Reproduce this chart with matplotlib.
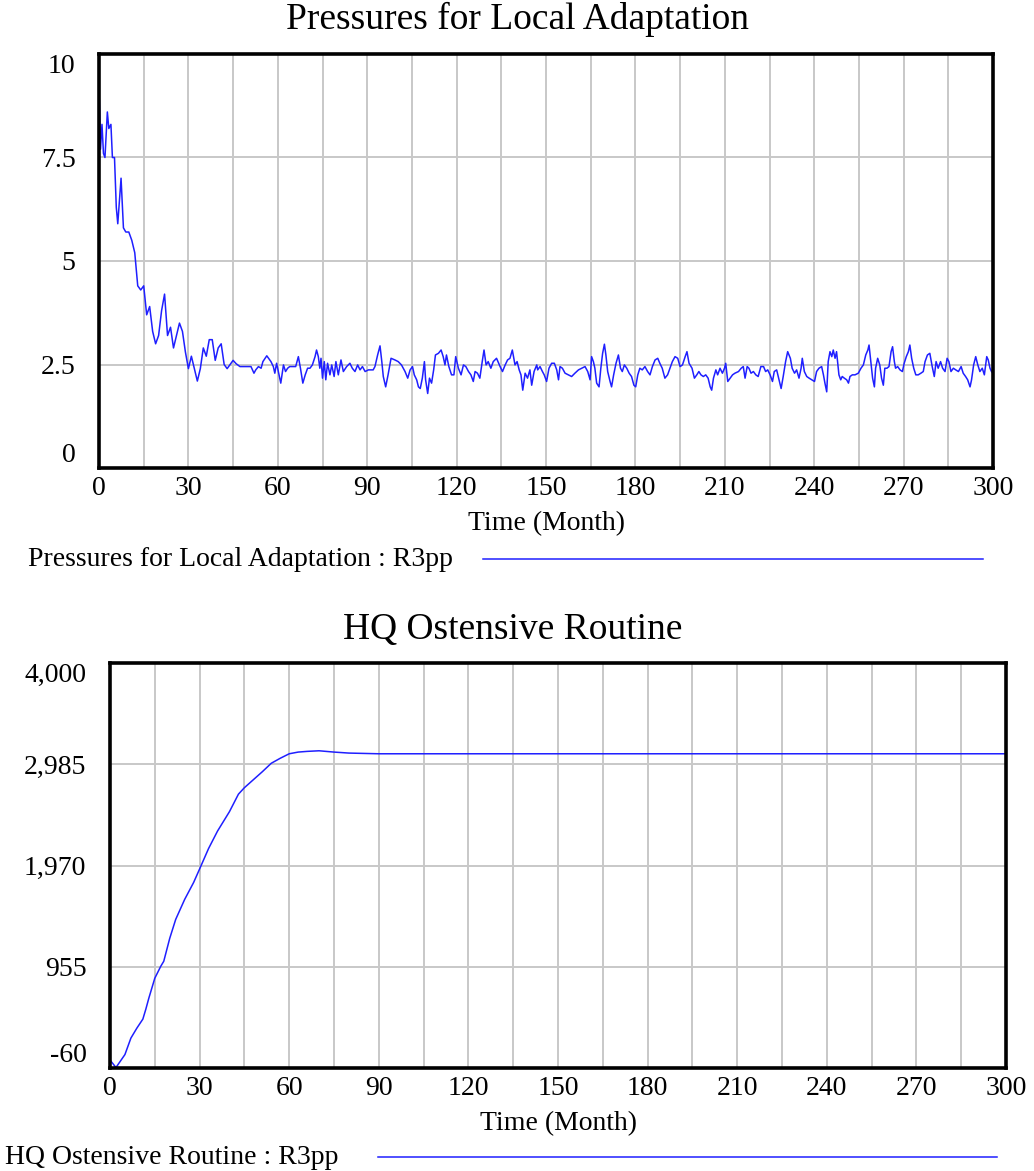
import matplotlib
matplotlib.use("Agg")
import matplotlib.pyplot as plt
from matplotlib.lines import Line2D

plt.rcParams["font.family"] = ["Liberation Serif", "DejaVu Serif"]

# ============
# data
# ============
# Pressures for Local Adaptation (R3pp)
pla_time = [
    0, 0.5, 1, 1.5, 2, 2.8, 3.3, 4, 4.5, 5.2, 5.8, 6.3, 7, 7.4, 7.8, 8.2, 9, 10, 11, 12,
    12.5, 13, 14, 15, 16, 17, 18, 19, 20, 21, 22, 23, 24, 25, 26, 27, 28, 29, 30, 31,
    32, 33, 34, 35, 36, 37, 38, 39, 40, 41, 42, 43, 44, 45, 46, 47.3, 49, 51, 52, 52.6,
    53.5, 54.4, 55, 56.3, 56.9, 57.7, 58.5, 59, 59.6, 60.4, 61, 61.9, 62.6, 63.3, 64, 66, 66.9, 67.6, 68.4, 69.2,
    70, 70.8, 71.6, 72.5, 73, 73.6, 74.1, 74.5, 75, 75.6, 76.1, 76.7, 77.5, 78.1, 78.9, 79.5, 80.3, 81.2, 82, 83.1,
    84.2, 85, 85.9, 86.8, 87.6, 88.4, 89.3, 90.4, 92, 92.6, 93.5, 94.3, 94.9, 95.4, 96.2, 97, 98, 99.3, 100.4, 101.5,
    102.7, 103.6, 104.4, 105.2, 105.8, 106.6, 107.2, 107.8, 108.5, 109.2, 109.6, 110.3, 110.9, 111.6, 112.3, 112.9, 113.9, 114.8, 115.5, 116.1,
    116.6, 117.4, 118.3, 119.1, 119.7, 120.6, 121.5, 122.3, 123.1, 124, 124.8, 125.6, 126.2, 127, 127.8, 128.6, 129.2, 129.9, 130.6, 131.5,
    132.3, 133.4, 134.6, 135.4, 136.3, 137.1, 137.9, 138.7, 139.6, 140.3, 141, 141.6, 142.2, 143, 143.8, 144.6, 145.2, 146, 146.9, 147.2,
    148, 148.8, 149.4, 150.2, 151, 151.9, 152.8, 153.6, 154.2, 154.7, 155.5, 156.4, 157.5, 158.6, 159.7, 160.9, 162, 163.1, 164, 164.8,
    165.3, 165.9, 166.4, 167, 167.8, 168.4, 169, 169.6, 170.1, 170.7, 171.5, 172, 172.7, 173.5, 174.3, 175, 175.6, 176.3, 177.1, 177.9,
    178.7, 179.5, 180.1, 180.8, 181.5, 182.3, 183.2, 184.1, 184.9, 185.7, 186.6, 187.5, 188.2, 189, 189.9, 190.8, 191.6, 192.4, 193.3, 194.2,
    195, 195.8, 196.7, 197.3, 198, 199, 199.8, 200.6, 201.3, 202, 202.8, 203.6, 204.4, 205.1, 205.6, 206.2, 207, 207.6, 208.4, 209.2,
    209.9, 210.3, 211, 211.8, 212.6, 213.4, 214.6, 215.5, 216.2, 216.8, 217.5, 218.1, 218.8, 219.6, 220.4, 221.2, 222.1, 223, 223.7, 224.4,
    225.2, 226, 226.6, 227.4, 228.2, 228.9, 229.6, 230.4, 231.1, 232, 232.6, 233.4, 234.1, 234.9, 235.6, 236, 236.7, 237.5, 238.3, 239.2,
    240.1, 240.8, 241.6, 242.5, 243.1, 243.6, 244.2, 244.7, 245.3, 245.9, 246.4, 247, 247.5, 248.3, 248.9, 249.4, 250.1, 250.9, 251.5, 252,
    252.8, 253.7, 254.8, 255.7, 256.5, 257.3, 258, 258.4, 259, 259.6, 260.2, 260.6, 261.3, 262, 262.6, 263.2, 263.7, 264.4, 265.1, 265.8,
    266.3, 266.9, 267.3, 268, 268.8, 269.6, 270.2, 270.9, 271.6, 272.1, 272.7, 273.4, 274.1, 274.9, 275.8, 276.6, 277.2, 278, 278.8, 279.6,
    280.3, 280.9, 281.6, 282.4, 283.1, 283.9, 284.6, 285.2, 285.9, 286.7, 287.5, 288.4, 289.3, 290, 290.8, 291.5, 292.3, 292.8, 293.5, 294.2,
    294.9, 295.6, 296.4, 297.1, 297.9, 298.4, 299, 299.5, 300,
]
pla_value = [
    9.2, 7.7, 8.3, 7.6, 7.5, 8.6, 8.2, 8.3, 7.5, 7.5, 6.3, 5.9, 6.6, 7.0, 6.4, 5.8, 5.7, 5.7, 5.5, 5.2,
    4.8, 4.4, 4.3, 4.4, 3.7, 3.9, 3.3, 3.0, 3.2, 3.8, 4.2, 3.2, 3.4, 2.9, 3.2, 3.5, 3.3, 2.8, 2.4, 2.7,
    2.4, 2.1, 2.4, 2.9, 2.7, 3.1, 3.1, 2.6, 2.9, 3.0, 2.5, 2.4, 2.5, 2.6, 2.52, 2.45, 2.45, 2.45, 2.29, 2.37,
    2.45, 2.41, 2.57, 2.71, 2.65, 2.57, 2.45, 2.29, 2.53, 2.25, 2.05, 2.49, 2.33, 2.41, 2.45, 2.45, 2.69, 2.41, 2.05, 2.25,
    2.41, 2.41, 2.49, 2.69, 2.85, 2.69, 2.41, 2.65, 2.17, 2.57, 2.13, 2.53, 2.25, 2.49, 2.21, 2.57, 2.25, 2.61, 2.33, 2.45,
    2.53, 2.41, 2.33, 2.49, 2.37, 2.45, 2.33, 2.37, 2.37, 2.45, 2.73, 2.95, 2.57, 2.21, 1.96, 2.25, 2.65, 2.61, 2.57, 2.49,
    2.33, 2.17, 2.37, 2.45, 2.25, 2.13, 1.96, 1.92, 2.17, 2.57, 2.13, 1.80, 2.17, 2.05, 2.37, 2.73, 2.77, 2.85, 2.69, 2.49,
    2.73, 2.45, 2.25, 2.25, 2.69, 2.41, 2.25, 2.49, 2.45, 2.33, 2.25, 2.09, 2.33, 2.29, 2.17, 2.57, 2.85, 2.49, 2.57, 2.41,
    2.57, 2.65, 2.45, 2.33, 2.49, 2.61, 2.65, 2.85, 2.49, 2.57, 2.37, 2.25, 1.88, 2.29, 2.17, 2.37, 2.0, 2.33, 2.49, 2.37,
    2.45, 2.33, 2.25, 2.09, 2.41, 2.53, 2.53, 2.37, 2.13, 2.45, 2.41, 2.29, 2.25, 2.21, 2.29, 2.37, 2.41, 2.45, 2.33, 2.13,
    2.69, 2.57, 2.41, 2.05, 1.96, 2.41, 2.77, 2.99, 2.73, 2.33, 2.09, 1.96, 2.25, 2.53, 2.73, 2.41, 2.33, 2.49, 2.41, 2.29,
    2.21, 2.0, 1.96, 2.25, 2.41, 2.37, 2.45, 2.33, 2.25, 2.45, 2.61, 2.65, 2.53, 2.41, 2.17, 2.25, 2.41, 2.57, 2.69, 2.65,
    2.45, 2.49, 2.69, 2.81, 2.53, 2.41, 2.17, 2.25, 2.33, 2.25, 2.21, 2.25, 2.17, 1.96, 1.88, 2.17, 2.37, 2.25, 2.41, 2.29,
    2.41, 2.53, 2.09, 2.17, 2.25, 2.29, 2.33, 2.41, 2.45, 2.17, 2.45, 2.41, 2.29, 2.33, 2.25, 2.21, 2.45, 2.45, 2.33, 2.37,
    2.25, 2.09, 2.33, 2.37, 2.13, 1.92, 2.21, 2.57, 2.81, 2.65, 2.41, 2.29, 2.37, 2.17, 2.41, 2.65, 2.33, 2.21, 2.17, 2.13,
    2.09, 2.33, 2.41, 2.45, 2.25, 2.05, 1.84, 2.57, 2.81, 2.69, 2.85, 2.65, 2.81, 2.25, 2.13, 2.21, 2.17, 2.13, 2.05, 2.21,
    2.25, 2.25, 2.29, 2.41, 2.49, 2.73, 2.85, 2.97, 2.57, 2.17, 1.96, 2.41, 2.65, 2.49, 2.17, 2.0, 2.41, 2.41, 2.45, 2.81,
    2.93, 2.57, 2.41, 2.45, 2.37, 2.33, 2.53, 2.69, 2.81, 2.97, 2.65, 2.41, 2.25, 2.25, 2.29, 2.33, 2.57, 2.73, 2.77, 2.45,
    2.21, 2.57, 2.41, 2.57, 2.41, 2.33, 2.65, 2.57, 2.33, 2.41, 2.37, 2.33, 2.45, 2.29, 2.21, 2.13, 1.96, 2.13, 2.49, 2.69,
    2.49, 2.33, 2.41, 2.25, 2.69, 2.61, 2.41, 2.33, 2.29,
]

# HQ Ostensive Routine (R3pp)
hq_time = [0, 2, 5, 7, 9, 11, 12, 13, 15, 17, 18, 20, 22, 25, 28, 30, 33, 36, 40, 43,
           45, 48, 51, 54, 57, 60, 63, 66, 70, 75, 80, 90, 300]
hq_value = [20, -55, 75, 240, 340, 430, 530, 640, 840, 960, 1010, 1240, 1430, 1630, 1800, 1935, 2140, 2315, 2510, 2685,
            2750, 2830, 2910, 2995, 3045, 3090, 3107, 3114, 3120, 3107, 3097, 3090, 3090]

x_ticks = list(range(0, 301, 30))
x_grid = list(range(0, 301, 15))
pla_yticks = [0, 2.5, 5, 7.5, 10]
pla_ylabels = ["0", "2.5", "5", "7.5", "10"]
hq_yticks = [-60, 955, 1970, 2985, 4000]
hq_ylabels = ["-60", "955", "1,970", "2,985", "4,000"]

LINE_COLOR = "#1f1fff"
GRID_COLOR = "#c8c8c8"
SMALL = 20
BIG = 27

W, H = 1034, 1171
fig = plt.figure(figsize=(W / 100, H / 100), dpi=100)


def fx(px):
    return px / W


def fy(py):
    return 1 - py / H


def setup_axes(ax, yticks, ylabels, ylim):
    ax.set_xlim(0, 300)
    ax.set_ylim(*ylim)
    ax.set_xticks(x_grid, minor=True)
    ax.set_xticks(x_ticks)
    ax.set_xticklabels([str(t) for t in x_ticks], fontsize=SMALL)
    ax.set_yticks(yticks)
    ax.set_yticklabels(ylabels, fontsize=SMALL)
    ax.grid(True, which="both", axis="x", color=GRID_COLOR, lw=1.4)
    ax.grid(True, which="major", axis="y", color=GRID_COLOR, lw=1.4)
    ax.set_axisbelow(True)
    ax.tick_params(which="both", length=0)
    ax.tick_params(axis="y", pad=17)
    ax.tick_params(axis="x", pad=6)
    labs = ax.get_yticklabels()
    labs[0].set_va("bottom")
    labs[-1].set_va("top")
    for s in ax.spines.values():
        s.set_linewidth(2.6)
        s.set_color("black")
    ax.set_xlabel("Time (Month)", fontsize=SMALL, labelpad=7)


# ============
# top chart
# ============
ax1 = fig.add_axes([fx(99), fy(468), fx(993) - fx(99), fy(54) - fy(468)])
ax1.plot(pla_time, pla_value, color=LINE_COLOR, lw=1.1, clip_on=False)
setup_axes(ax1, pla_yticks, pla_ylabels, (0, 10))
fig.text(fx(518), fy(19), "Pressures for Local Adaptation", ha="center", va="center", fontsize=BIG)
fig.text(fx(28), fy(560), "Pressures for Local Adaptation : R3pp", ha="left", va="center", fontsize=SMALL)
fig.add_artist(Line2D([fx(483), fx(983)], [fy(559), fy(559)], color=LINE_COLOR, lw=1.1,
                      transform=fig.transFigure))

# ============
# bottom chart
# ============
ax2 = fig.add_axes([fx(110), fy(1068), fx(1006) - fx(110), fy(663) - fy(1068)])
ax2.plot(hq_time, hq_value, color=LINE_COLOR, lw=1.1)
setup_axes(ax2, hq_yticks, hq_ylabels, (-60, 4000))
fig.text(fx(513), fy(630), "HQ Ostensive Routine", ha="center", va="center", fontsize=BIG)
fig.text(fx(5), fy(1158), "HQ Ostensive Routine : R3pp", ha="left", va="center", fontsize=SMALL)
fig.add_artist(Line2D([fx(378), fx(997)], [fy(1157), fy(1157)], color=LINE_COLOR, lw=1.1,
                      transform=fig.transFigure))

fig.savefig("out.png", dpi=100)
plt.close(fig)
